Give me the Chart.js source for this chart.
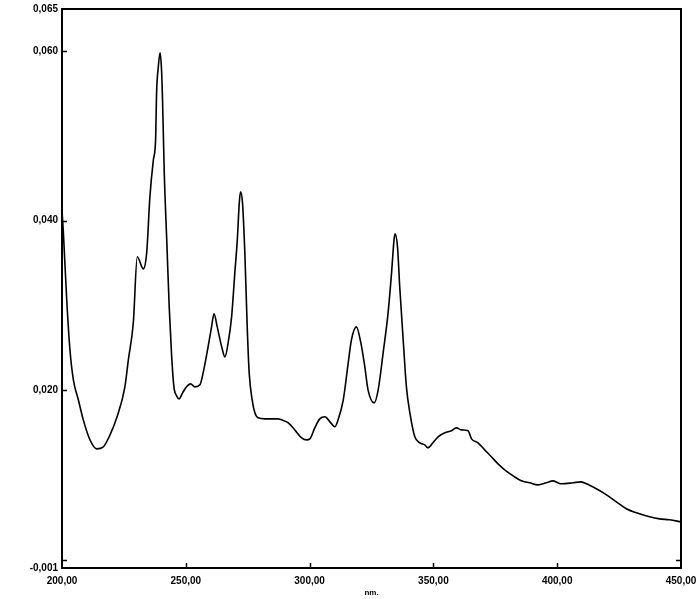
<!DOCTYPE html>
<html>
<head>
<meta charset="utf-8">
<script src="https://cdn.jsdelivr.net/npm/chart.js@4.4.1/dist/chart.umd.min.js"></script>
<style>
  html, body { margin: 0; padding: 0; background: #fff; }
  canvas { display: block; }
</style>
</head>
<body>
<canvas id="grafico" width="698" height="599"></canvas>
<script>
const longitudes = [
  200.0, 200.5, 201.9, 203.2, 204.6, 206.6, 208.6, 211.3, 214.0, 216.7,
  219.4, 222.1, 225.4, 226.8, 228.8, 230.4, 232.8, 234.2, 235.5, 236.9,
  237.8, 238.2, 238.9, 239.6, 240.2, 240.6, 241.3, 242.3, 243.3, 244.3,
  245.2, 246.3, 247.3, 248.7, 250.3, 251.9, 253.7, 255.7, 257.0, 259.0,
  260.4, 261.4, 262.7, 264.5, 265.8, 267.1, 268.5, 269.8, 270.8, 271.6,
  272.1, 272.9, 273.9, 274.8, 275.6, 276.8, 277.9, 279.2, 281.9, 284.6,
  287.3, 288.7, 291.4, 294.0, 296.8, 298.8, 300.1, 302.1, 304.1, 306.2,
  308.2, 310.2, 311.5, 313.6, 315.6, 316.9, 318.9, 320.7, 322.3, 323.6,
  326.1, 327.7, 329.7, 331.7, 333.1, 334.1, 334.5, 335.5, 336.4, 337.8,
  339.1, 340.5, 342.5, 344.5, 346.5, 347.8, 349.8, 351.9, 354.6, 357.3,
  359.3, 361.3, 364.0, 365.4, 368.0, 370.7, 373.4, 376.1, 378.8, 382.2,
  385.5, 388.9, 392.2, 395.6, 398.3, 400.3, 401.7, 406.4, 409.4, 411.8,
  415.8, 419.9, 423.9, 427.9, 432.0, 437.3, 441.4, 445.4, 450.0
];
const absorbancia = [
  0.04117, 0.03890, 0.03070, 0.02480, 0.02120, 0.01886, 0.01649, 0.01413, 0.01307, 0.01331,
  0.01472, 0.01673, 0.02039, 0.02358, 0.02795, 0.03574, 0.03432, 0.03621, 0.04282, 0.04719,
  0.04955, 0.05510, 0.05817, 0.05982, 0.05782, 0.05427, 0.04566, 0.03774, 0.02983, 0.02393,
  0.02039, 0.01933, 0.01897, 0.01968, 0.02039, 0.02074, 0.02039, 0.02063, 0.02204, 0.02511,
  0.02747, 0.02901, 0.02747, 0.02511, 0.02393, 0.02558, 0.02865, 0.03385, 0.03774, 0.04211,
  0.04341, 0.04211, 0.03574, 0.02750, 0.02204, 0.01886, 0.01732, 0.01673, 0.01661, 0.01661,
  0.01661, 0.01649, 0.01614, 0.01531, 0.01437, 0.01413, 0.01425, 0.01555, 0.01661, 0.01685,
  0.01626, 0.01567, 0.01649, 0.01886, 0.02322, 0.02594, 0.02747, 0.02558, 0.02275, 0.02004,
  0.01850, 0.02004, 0.02440, 0.02913, 0.03385, 0.03774, 0.03845, 0.03692, 0.03220, 0.02594,
  0.02039, 0.01732, 0.01449, 0.01378, 0.01354, 0.01319, 0.01378, 0.01449, 0.01496, 0.01520,
  0.01555, 0.01531, 0.01520, 0.01425, 0.01378, 0.01295, 0.01213, 0.01130, 0.01059, 0.00988,
  0.00929, 0.00906, 0.00882, 0.00906, 0.00929, 0.00906, 0.00894, 0.00906, 0.00917, 0.00894,
  0.00835, 0.00764, 0.00681, 0.00599, 0.00551, 0.00504, 0.00480, 0.00469, 0.00445
];

const ticksX = [200, 250, 300, 350, 400, 450];
const ticksY = [-0.001, 0, 0.02, 0.04, 0.06, 0.065];
const ticksDerecha = [0]; // unica marca visible en el eje derecho

const coma = (v, d) => v.toFixed(d).replace(".", ",");

// Marco superior/derecho y marcas hacia adentro
const marcas = {
  id: "marcas",
  afterDraw(chart) {
    const { ctx, chartArea: a, scales: { x, y } } = chart;
    ctx.save();
    ctx.strokeStyle = "#000";
    ctx.lineWidth = 2;
    ctx.beginPath();
    ctx.moveTo(a.left, a.top);
    ctx.lineTo(a.right, a.top);
    ctx.lineTo(a.right, a.bottom);
    ctx.stroke();

    ctx.lineWidth = 1.5;
    ctx.beginPath();
    ticksY.filter(v => v > y.min && v < y.max).forEach(v => {
      const py = Math.round(y.getPixelForValue(v)) + 0.5;
      ctx.moveTo(a.left, py);
      ctx.lineTo(a.left + 5, py);
    });
    ticksDerecha.forEach(v => {
      const py = Math.round(y.getPixelForValue(v)) + 0.5;
      ctx.moveTo(a.right, py);
      ctx.lineTo(a.right - 5, py);
    });
    ticksX.filter(v => v > x.min && v < x.max).forEach(v => {
      const px = Math.round(x.getPixelForValue(v)) + 0.5;
      ctx.moveTo(px, a.bottom);
      ctx.lineTo(px, a.bottom - 5);
    });
    ctx.stroke();
    ctx.restore();
  }
};

const fuente = { family: "Arial, 'Liberation Sans', sans-serif", size: 10, weight: "bold" };

new Chart(document.getElementById("grafico").getContext("2d"), {
  type: "line",
  data: {
    datasets: [{
      data: longitudes.map((nm, i) => ({ x: nm, y: absorbancia[i] })),
      borderColor: "#000",
      borderWidth: 1.6,
      pointRadius: 0,
      fill: false,
      cubicInterpolationMode: "monotone"
    }]
  },
  options: {
    responsive: false,
    animation: false,
    devicePixelRatio: 1,
    layout: { padding: { top: 9, right: 17, left: 0, bottom: 0 } },
    plugins: { legend: { display: false }, tooltip: { enabled: false } },
    scales: {
      x: {
        type: "linear",
        min: 200,
        max: 450,
        afterBuildTicks: s => { s.ticks = ticksX.map(v => ({ value: v })); },
        afterFit: s => { s.height = 31; s.paddingLeft = 0; s.paddingRight = 0; },
        ticks: { color: "#000", font: fuente, padding: 7, maxRotation: 0, callback: v => coma(v, 2) },
        grid: { drawOnChartArea: false, drawTicks: false },
        border: { display: true, color: "#000", width: 2 },
        title: {
          display: true,
          text: "nm.",
          color: "#000",
          font: { family: "Arial, 'Liberation Sans', sans-serif", size: 8, weight: "bold" },
          padding: { top: 0, bottom: 1 }
        }
      },
      y: {
        min: -0.001,
        max: 0.065,
        afterBuildTicks: s => { s.ticks = ticksY.map(v => ({ value: v })); },
        afterFit: s => { s.width = 62; s.paddingTop = 0; s.paddingBottom = 0; },
        ticks: { color: "#000", font: fuente, padding: 4, callback: v => (v === 0 ? "" : coma(v, 3)) },
        grid: { drawOnChartArea: false, drawTicks: false },
        border: { display: true, color: "#000", width: 2 }
      }
    }
  },
  plugins: [marcas]
});
</script>
</body>
</html>
